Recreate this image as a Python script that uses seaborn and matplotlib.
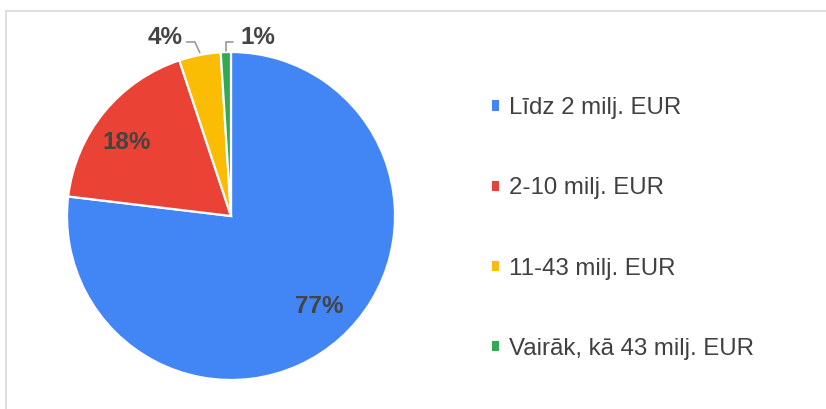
import matplotlib
matplotlib.use("Agg")
import matplotlib.pyplot as plt
from matplotlib.lines import Line2D
from matplotlib.patches import Patch
import seaborn as sns
import numpy as np

# ---- data ----
categories = ["Līdz 2 milj. EUR", "2-10 milj. EUR", "11-43 milj. EUR", "Vairāk, kā 43 milj. EUR"]
values = [76.9, 18.0, 4.1, 1.0]
pct_labels = ["77%", "18%", "4%", "1%"]
colors = ["#4285F4", "#EA4335", "#FBBC04", "#34A853"]

sns.set_theme(style="white")
plt.rcParams['font.family'] = ['Liberation Sans', 'DejaVu Sans']
palette = sns.color_palette(colors)

W, H = 826, 409
fig = plt.figure(figsize=(W / 100, H / 100), dpi=100)
fig.patch.set_facecolor("white")

cx, cy, R = 231, 216, 164
ax = fig.add_axes([(cx - R) / W, (H - cy - R) / H, 2 * R / W, 2 * R / H])
wedges, _ = ax.pie(values, colors=palette, startangle=90, counterclock=False,
                   wedgeprops=dict(edgecolor="white", linewidth=1.6))
ax.set_xlim(-1, 1)
ax.set_ylim(-1, 1)
ax.set_aspect("equal")
ax.axis("off")

txt_color = "#444444"
lab_fs = 17.5

# inside labels
inside = {0: (0.77, 2.8), 1: (0.775, 4.1)}
for i, (r, nudge) in inside.items():
    w = wedges[i]
    m = np.deg2rad((w.theta1 + w.theta2) / 2 + nudge)
    ax.text(r * np.cos(m), r * np.sin(m), pct_labels[i], ha="center", va="center",
            fontsize=lab_fs, fontweight="bold", color=txt_color)

# outside labels with leader lines
ly = 1.061
lead_col = "#9a9a9a"
# 4%
w = wedges[2]
m = np.deg2rad((w.theta1 + w.theta2) / 2)
p0 = (np.cos(m), np.sin(m) + 0.015)
elb = (p0[0] - 0.03, ly)
end = (elb[0] - 0.05, ly)
ax.plot([p0[0], elb[0], end[0]], [p0[1], elb[1], end[1]], color=lead_col, lw=1.2,
        clip_on=False, solid_joinstyle="miter")
ax.text(end[0] - 0.025, 1.091, pct_labels[2], ha="right", va="center",
        fontsize=lab_fs, fontweight="bold", color=txt_color, clip_on=False)
# 1%
w = wedges[3]
m = np.deg2rad((w.theta1 + w.theta2) / 2)
p0 = (np.cos(m), np.sin(m) + 0.005)
elb = (p0[0], ly)
end = (elb[0] + 0.045, ly)
ax.plot([p0[0], elb[0], end[0]], [p0[1], elb[1], end[1]], color=lead_col, lw=1.2,
        clip_on=False, solid_joinstyle="miter")
ax.text(end[0] + 0.045, 1.091, pct_labels[3], ha="left", va="center",
        fontsize=lab_fs, fontweight="bold", color=txt_color, clip_on=False)

# legend
handles = [Patch(facecolor=c, edgecolor="none") for c in palette]
fig.legend(handles, categories, loc="center left",
           bbox_to_anchor=(492 / W, (H - 228.5) / H), frameon=False,
           fontsize=17.3, handlelength=0.29, handleheight=0.29, handletextpad=0.42,
           labelspacing=2.42, borderpad=0, borderaxespad=0, labelcolor="#404040")

# light frame lines (top and left)
bc = "#d9d9d9"
fig.add_artist(Line2D([6 / W, 1], [1 - 11 / H, 1 - 11 / H], color=bc, lw=1.2,
                      transform=fig.transFigure))
fig.add_artist(Line2D([6 / W, 6 / W], [0, 1 - 11 / H], color=bc, lw=1.2,
                      transform=fig.transFigure))

fig.savefig("out.png", dpi=100)
